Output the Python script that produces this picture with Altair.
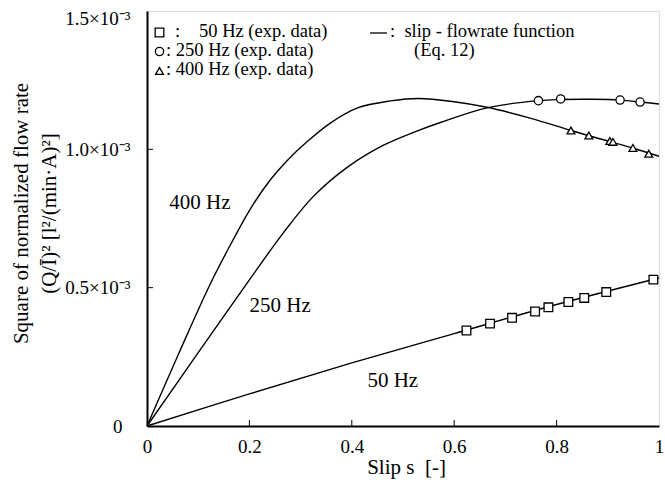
import altair as alt
import pandas as pd

FONT = "Liberation Serif"

# ---- experimental data (y in units of 1e-3) ----
s50_exp = [0.624, 0.670, 0.713, 0.758, 0.784, 0.823, 0.854, 0.897, 0.989]
q50_exp = [0.345, 0.370, 0.391, 0.414, 0.429, 0.448, 0.463, 0.484, 0.529]
s250_exp = [0.7645, 0.808, 0.924, 0.963]
q250_exp = [1.176, 1.182, 1.178, 1.171]
s400_exp = [0.828, 0.863, 0.904, 0.910, 0.949, 0.980]
q400_exp = [1.068, 1.050, 1.030, 1.027, 1.005, 0.984]

# ---- slip - flowrate function curves ----
s50_fit = [0, 0.2, 0.4, 0.6, 0.8, 1.0]
q50_fit = [0, 0.116, 0.228, 0.334, 0.439, 0.535]
s250_fit = [0, 0.1, 0.2, 0.267, 0.325, 0.391, 0.462, 0.527, 0.573, 0.664,
            0.7645, 0.808, 0.87, 0.924, 0.963, 1.0]
q250_fit = [0, 0.265, 0.528, 0.700, 0.830, 0.935, 1.015, 1.066, 1.097, 1.150,
            1.176, 1.180, 1.181, 1.178, 1.171, 1.164]
s400_fit = [0, 0.062, 0.124, 0.163, 0.202, 0.241, 0.274, 0.313, 0.358, 0.41,
            0.475, 0.53, 0.6, 0.664, 0.75, 0.828, 0.9, 0.95, 1.0]
q400_fit = [0, 0.262, 0.515, 0.655, 0.785, 0.890, 0.960, 1.028, 1.095, 1.149,
            1.175, 1.184, 1.172, 1.152, 1.112, 1.068, 1.030, 1.004, 0.975]

x_ticks = [0.2, 0.4, 0.6, 0.8]
y_ticks = [0.5, 1.0]

curve_labels = ["400 Hz", "250 Hz", "50 Hz"]
curve_label_s = [0.1035, 0.26, 0.480]
curve_label_q = [0.806, 0.434, 0.163]

fit = pd.concat([
    pd.DataFrame({"s": s50_fit, "q": q50_fit, "f": "50"}),
    pd.DataFrame({"s": s250_fit, "q": q250_fit, "f": "250"}),
    pd.DataFrame({"s": s400_fit, "q": q400_fit, "f": "400"}),
])
exp = pd.concat([
    pd.DataFrame({"s": s50_exp, "q": q50_exp, "f": "50"}),
    pd.DataFrame({"s": s250_exp, "q": q250_exp, "f": "250"}),
    pd.DataFrame({"s": s400_exp, "q": q400_exp, "f": "400"}),
])
labels = pd.DataFrame({"s": curve_label_s, "q": curve_label_q, "t": curve_labels})

xs = alt.Scale(domain=[0, 1], nice=False, zero=False)
ys = alt.Scale(domain=[0, 1.5], nice=False, zero=False)

x_axis = alt.Axis(
    values=[0, 0.2, 0.4, 0.6, 0.8, 1.0],
    labelExpr="datum.value == 0 ? '0' : datum.value == 1 ? '1' : format(datum.value, '.1f')",
    ticks=False, grid=False, labelPadding=11, labelFont=FONT, labelFontSize=19,
    labelFlush=False, labelColor="black",
    title="Slip s\u00a0\u00a0[-]", titleFont=FONT, titleFontSize=21,
    titleFontWeight="normal", titleColor="black", titleX=259, titleY=41,
    titleBaseline="middle", domainColor="black", domainWidth=2,
)
y_axis = alt.Axis(
    values=[0, 0.5, 1.0, 1.5],
    labelExpr="datum.value == 0 ? '0' : format(datum.value, '.1f') + '\u00d710\u207b\u00b3'",
    ticks=False, grid=False,
    labelPadding={"condition": {"test": "datum.value == 0", "value": 25}, "value": 17},
    labelOffset={"condition": {"test": "datum.value == 1.5", "value": 7}, "value": 0},
    labelFont=FONT, labelFontSize=19,
    labelFlush=False, labelColor="black",
    title=["Square of normalized flow rate", "(Q/\u012a)\u00b2 [l\u00b2/(min\u00b7A)\u00b2]"],
    titleFont=FONT, titleFontSize=21, titleFontWeight="normal", titleColor="black",
    titleAngle=270, titleX=-137, titleY=202, titleBaseline="top", titleAlign="center",
    titleLineHeight=28, domainColor="black", domainWidth=2,
)

base_x = alt.X("s:Q", scale=xs, axis=x_axis)
base_y = alt.Y("q:Q", scale=ys, axis=y_axis)

lines = alt.Chart(fit).mark_line(color="black", strokeWidth=1.4, interpolate="catmull-rom").encode(
    x=base_x, y=base_y, detail="f:N", order="s:Q"
)

shape_scale = alt.Scale(domain=["50", "250", "400"], range=["square", "circle", "triangle-up"])
size_scale = alt.Scale(domain=["50", "250", "400"], range=[75, 62, 110])

points = alt.Chart(exp).mark_point(filled=True, fill="white", stroke="black", strokeWidth=1.3, opacity=1).encode(
    x=alt.X("s:Q", scale=xs),
    y=alt.Y("q:Q", scale=ys),
    shape=alt.Shape("f:N", scale=shape_scale, legend=None),
    size=alt.Size("f:N", scale=size_scale, legend=None),
)

curve_text = alt.Chart(labels).mark_text(font=FONT, fontSize=21, color="black").encode(
    x=alt.X("s:Q", scale=xs), y=alt.Y("q:Q", scale=ys), text="t:N"
)

xt = alt.Chart(pd.DataFrame({"v": x_ticks})).mark_rule(color="black", strokeWidth=1).encode(
    x=alt.X("v:Q", scale=xs), y=alt.value(415), y2=alt.value(409)
)
yt = alt.Chart(pd.DataFrame({"v": y_ticks})).mark_rule(color="black", strokeWidth=1).encode(
    y=alt.Y("v:Q", scale=ys), x=alt.value(0), x2=alt.value(6)
)

# ---- legend ----
leg_shapes = pd.DataFrame({"f": ["50", "250", "400"], "py": [21.5, 40.5, 60]})
leg_pts = alt.Chart(leg_shapes).mark_point(filled=True, fill="white", stroke="black", strokeWidth=1.3, opacity=1).encode(
    x=alt.value(12.5), y=alt.Y("py:Q", scale=None),
    shape=alt.Shape("f:N", scale=shape_scale, legend=None),
    size=alt.Size("f:N", scale=size_scale, legend=None),
)
leg_rows = pd.DataFrame({
    "t": [":", "50 Hz (exp. data)", ": 250 Hz (exp. data)", ": 400 Hz (exp. data)",
          ":\u00a0\u00a0slip - flowrate function", "(Eq. 12)"],
    "px": [28, 52, 19, 19, 243, 267],
    "py": [20, 20, 39, 58, 20, 39],
})
leg_text = alt.Chart(leg_rows).mark_text(font=FONT, fontSize=18.5, color="black", align="left", baseline="middle").encode(
    x=alt.X("px:Q", scale=None), y=alt.Y("py:Q", scale=None), text="t:N"
)
leg_line = alt.Chart(pd.DataFrame({"a": [1]})).mark_rule(color="black", strokeWidth=1.3).encode(
    x=alt.value(223), x2=alt.value(240), y=alt.value(22)
)

chart = alt.layer(lines, points, curve_text, xt, yt, leg_pts, leg_text, leg_line).properties(
    width=512, height=415,
    autosize=alt.AutoSizeParams(type="none"),
    padding={"left": 147, "top": 11, "right": 6, "bottom": 60},
).configure_view(stroke="black", strokeWidth=2).configure(background="white")

chart.save("out.html", embed_options={"renderer": "svg", "actions": False})
